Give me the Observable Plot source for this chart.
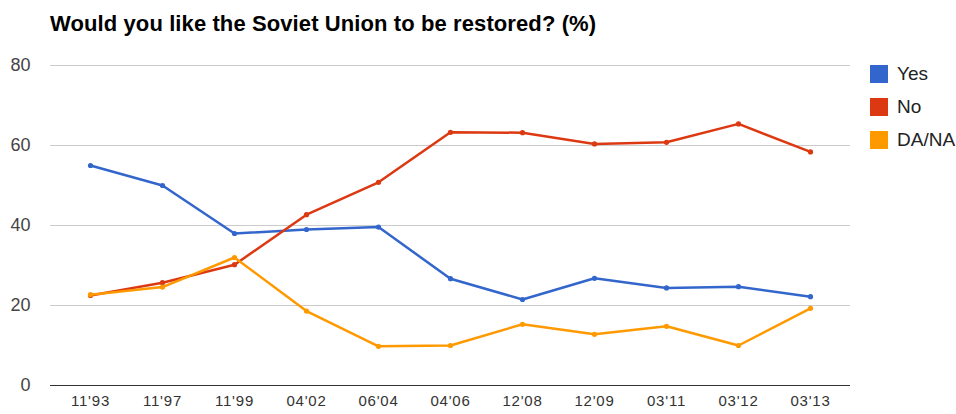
<!DOCTYPE html>
<html>
<head>
<meta charset="utf-8">
<script src="https://cdn.jsdelivr.net/npm/d3@7"></script>
<script src="https://cdn.jsdelivr.net/npm/@observablehq/plot@0.6"></script>
<style>
  html, body { margin: 0; padding: 0; background: #fff; }
  body { width: 956px; height: 414px; overflow: hidden; font-family: "Liberation Sans", Arial, sans-serif; }
  #wrap { position: relative; width: 956px; height: 414px; }
  #title { position: absolute; left: 50px; top: 2px; height: 44px; line-height: 44px; font-size: 22px; font-weight: bold; color: #000; white-space: nowrap; letter-spacing: 0.1px; }
  #chart { position: absolute; left: 0; top: 45px; }
  #legend { position: absolute; left: 870px; top: 65px; }
  .item { position: relative; height: 33px; }
  .sw { position: absolute; left: 0; top: 0; width: 18px; height: 18px; }
  .lab { position: absolute; left: 27px; top: -1px; line-height: 20px; font-size: 19px; color: #222; white-space: nowrap; }
</style>
</head>
<body>
<div id="wrap">
  <div id="title">Would you like the Soviet Union to be restored? (%)</div>
  <div id="chart"></div>
  <div id="legend"></div>
</div>
<script>
const periods = ["11'93","11'97","11'99","04'02","06'04","04'06","12'08","12'09","03'11","03'12","03'13"];
const yesValues  = [55, 50, 38, 39, 39.6, 26.7, 21.5, 26.8, 24.4, 24.7, 22.2];
const noValues   = [22.5, 25.7, 30.2, 42.7, 50.8, 63.3, 63.2, 60.4, 60.8, 65.4, 58.4];
const danaValues = [22.7, 24.6, 32, 18.6, 9.8, 10, 15.3, 12.8, 14.8, 10, 19.3];
const seriesNames = ["Yes", "No", "DA/NA"];
const seriesColors = ["#3366cc", "#dc3912", "#ff9900"];
const yTicks = [0, 20, 40, 60, 80];

const seriesValues = [yesValues, noValues, danaValues];
const data = [];
seriesNames.forEach((s, i) => {
  periods.forEach((p, j) => data.push({series: s, period: p, value: seriesValues[i][j]}));
});

const chart = Plot.plot({
  width: 956,
  height: 369,
  marginTop: 20,
  marginBottom: 29,
  marginLeft: 50,
  marginRight: 106,
  style: {fontFamily: "'Liberation Sans', Arial, sans-serif", background: "#fff"},
  x: {type: "point", domain: periods, padding: 0.5},
  y: {domain: [0, 80]},
  color: {domain: seriesNames, range: seriesColors},
  marks: [
    Plot.gridY(yTicks, {stroke: "#cccccc", strokeOpacity: 1, strokeWidth: 1}),
    Plot.ruleY([0], {stroke: "#333", strokeWidth: 1}),
    Plot.axisY(yTicks, {tickSize: 0, tickPadding: 20, fontSize: 18, fill: "#444", label: null}),
    Plot.axisX({tickSize: 0, tickPadding: 10, fontSize: 15, fill: "#333", label: null}),
    Plot.line(data, {x: "period", y: "value", stroke: "series", strokeWidth: 2.5, z: "series"}),
    Plot.dot(data, {x: "period", y: "value", fill: "series", r: 2.6})
  ]
});
d3.select(chart).selectAll('g[aria-label="x-axis tick label"] text').attr("letter-spacing", "0.8px");
document.getElementById("chart").appendChild(chart);

const legend = document.getElementById("legend");
seriesNames.forEach((s, i) => {
  const it = document.createElement("div");
  it.className = "item";
  it.innerHTML = `<div class="sw" style="background:${seriesColors[i]}"></div><div class="lab">${s}</div>`;
  legend.appendChild(it);
});
</script>
</body>
</html>
